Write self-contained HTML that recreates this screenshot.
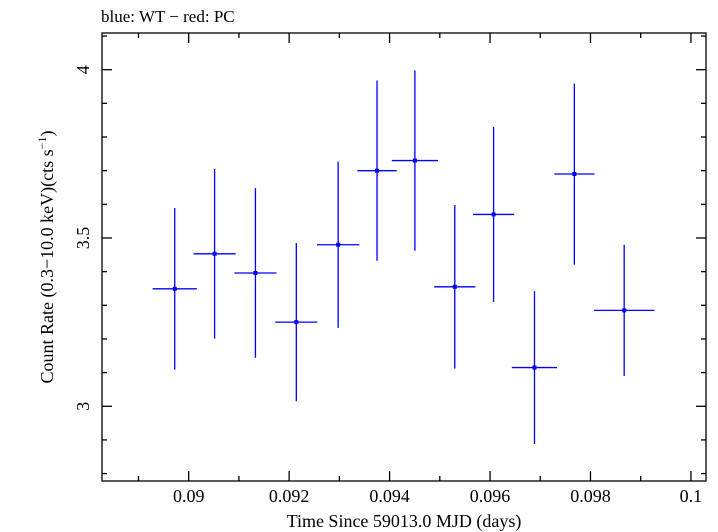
<!DOCTYPE html>
<html><head><meta charset="utf-8"><style>
html,body{margin:0;padding:0;background:#fff;width:718px;height:532px;overflow:hidden}
svg text{font-family:"Liberation Serif",serif;fill:#000}
</style></head><body>
<svg id="chart" width="718" height="532" xmlns="http://www.w3.org/2000/svg">
<text x="101" y="22" font-size="17">blue: WT − red: PC</text>
<g id="axes"></g>
<g id="marks"></g>
<text x="404" y="527" font-size="18" text-anchor="middle">Time Since 59013.0 MJD (days)</text>
<text transform="translate(53,257) rotate(-90)" font-size="18" text-anchor="middle">Count Rate (0.3−10.0 keV)(cts s<tspan font-size="12" dy="-7">−1</tspan><tspan dy="7">)</tspan></text>
</svg>
<script>
const times=[0.089722,0.090516,0.091329,0.092143,0.092976,0.09375,0.094504,0.095298,0.096071,0.096885,0.097679,0.098671];
const rates=[3.349,3.453,3.396,3.25,3.48,3.70,3.73,3.355,3.57,3.115,3.69,3.285];
const rateErr=[0.24,0.252,0.252,0.235,0.247,0.268,0.268,0.243,0.26,0.227,0.269,0.195];
const timeErr=[0.00044,0.00042,0.00042,0.00042,0.00042,0.00039,0.00046,0.00041,0.00041,0.00045,0.00040,0.00060];
const xTicks=[0.09,0.092,0.094,0.096,0.098,0.1];
const xTickLabels=["0.09","0.092","0.094","0.096","0.098","0.1"];
const yTicks=[3,3.5,4];
const yTickLabels=["3","3.5","4"];
const X0=0.088274,X1=0.1003,Y0=2.778,Y1=4.109;
const L=102,R=706,T=33,B=481;
const sx=v=>L+(v-X0)/(X1-X0)*(R-L);
const sy=v=>B-(v-Y0)/(Y1-Y0)*(B-T);
const NS="http://www.w3.org/2000/svg";
function mk(tag,attrs,parent){const e=document.createElementNS(NS,tag);for(const k in attrs)e.setAttribute(k,attrs[k]);parent.appendChild(e);return e;}
const ax=document.getElementById('axes');
const frame=mk('rect',{x:L,y:T,width:R-L,height:B-T,fill:'none',stroke:'#000','stroke-width':1.3},ax);


for(let v=0.089;v<=0.1001;v+=0.001){
  const major=xTicks.some(t=>Math.abs(t-v)<1e-7);const len=major?10:5;const x=sx(v);
  const t1=mk('line',{x1:x,x2:x,y1:B,y2:B-len,stroke:'#000','stroke-width':1.3},ax);
  
  
  const t2=mk('line',{x1:x,x2:x,y1:T,y2:T+len,stroke:'#000','stroke-width':1.3},ax);
  
  
}
xTicks.forEach((v,i)=>{const t=mk('text',{x:sx(v),y:B+21,'font-size':18,'text-anchor':'middle'},ax);t.textContent=xTickLabels[i];
  
  });
for(let v=2.8;v<=4.1001;v+=0.1){
  const major=yTicks.some(t=>Math.abs(t-v)<1e-7);const len=major?10:5;const y=sy(v);
  const t1=mk('line',{x1:L,x2:L+len,y1:y,y2:y,stroke:'#000','stroke-width':1.3},ax);
  
  
  const t2=mk('line',{x1:R,x2:R-len,y1:y,y2:y,stroke:'#000','stroke-width':1.3},ax);
  
  
}
yTicks.forEach((v,i)=>{const t=mk('text',{transform:`translate(89,${sy(v)}) rotate(-90)`,'font-size':18,'text-anchor':'middle'},ax);t.textContent=yTickLabels[i];
  
  });
const mg=document.getElementById('marks');
times.forEach((t,i)=>{
  const g=mk('g',{},mg);
  
  
  mk('line',{x1:sx(t),x2:sx(t),y1:sy(rates[i]-rateErr[i]),y2:sy(rates[i]+rateErr[i]),stroke:'#0000ff','stroke-width':1.3},g);
  mk('line',{x1:sx(t-timeErr[i]),x2:sx(t+timeErr[i]),y1:sy(rates[i]),y2:sy(rates[i]),stroke:'#0000ff','stroke-width':1.3},g);
  mk('rect',{x:sx(t)-2,y:sy(rates[i])-2,width:4,height:4,fill:'#0000ff'},g);
});
</script>
</body></html>
